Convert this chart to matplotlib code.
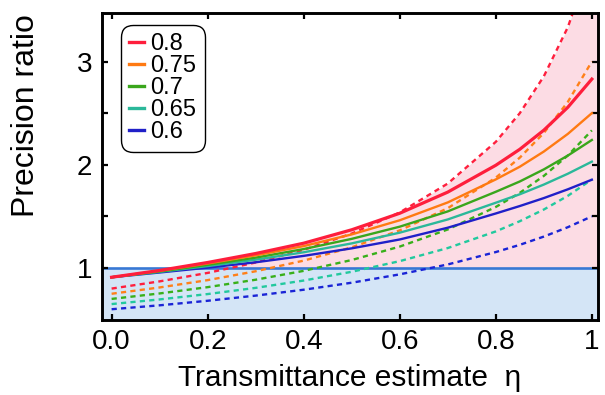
import numpy as np
import matplotlib.pyplot as plt

plt.rcParams['font.family'] = ['Liberation Sans', 'DejaVu Sans']

# transmittance estimate grid
eta = [0.0, 0.1, 0.2, 0.3, 0.4, 0.5, 0.6, 0.7, 0.8, 0.85, 0.9, 0.95, 1.0]

labels = ['0.8', '0.75', '0.7', '0.65', '0.6']
colors = ['#fe1e3c', '#ff7a12', '#3aa61c', '#2bb89a', '#2020c8']
dash_colors = ['#ff1f3d', '#ff8019', '#38b01a', '#22c99e', '#1a24d6']

# solid curves
solid_08 = [0.910, 0.976, 1.053, 1.140, 1.240, 1.370, 1.530, 1.735, 1.995, 2.150, 2.335, 2.557, 2.830]
solid_075 = [0.910, 0.972, 1.043, 1.122, 1.212, 1.325, 1.462, 1.635, 1.858, 1.981, 2.128, 2.299, 2.500]
solid_07 = [0.910, 0.966, 1.030, 1.100, 1.183, 1.282, 1.400, 1.548, 1.738, 1.838, 1.955, 2.089, 2.240]
solid_065 = [0.910, 0.962, 1.018, 1.080, 1.152, 1.238, 1.342, 1.470, 1.632, 1.714, 1.808, 1.913, 2.030]
solid_06 = [0.910, 0.956, 1.003, 1.055, 1.117, 1.190, 1.276, 1.390, 1.528, 1.600, 1.677, 1.762, 1.855]

# dashed curves
dash_08 = [0.800, 0.870, 0.952, 1.053, 1.176, 1.333, 1.538, 1.818, 2.222, 2.500, 2.857, 3.333, 4.000]
dash_075 = [0.750, 0.811, 0.882, 0.968, 1.071, 1.200, 1.364, 1.579, 1.875, 2.069, 2.308, 2.609, 3.000]
dash_07 = [0.700, 0.753, 0.814, 0.886, 0.972, 1.077, 1.207, 1.373, 1.591, 1.728, 1.892, 2.090, 2.333]
dash_065 = [0.650, 0.695, 0.747, 0.807, 0.878, 0.963, 1.066, 1.193, 1.354, 1.453, 1.566, 1.699, 1.857]
dash_06 = [0.600, 0.638, 0.682, 0.732, 0.789, 0.857, 0.938, 1.034, 1.154, 1.224, 1.304, 1.395, 1.500]

solids = [solid_08, solid_075, solid_07, solid_065, solid_06]
dashes = [dash_08, dash_075, dash_07, dash_065, dash_06]

fig = plt.figure(figsize=(6.05, 3.95), dpi=100)
ax = fig.add_axes([0.1686, 0.191, 0.82, 0.776])
xmin, xmax = -0.02, 1.013
ymin, ymax = 0.5, 3.47

# shaded regions
envelope = np.max(np.array(solids + dashes), axis=0)
ax.axhspan(0.0, 1.0, color='#d4e5f6', lw=0, zorder=0)
ax.fill_between(eta, 1.0, envelope, where=envelope >= 1.0, interpolate=True,
                color='#fcdce4', lw=0, zorder=0)
ax.fill_between([1.0, 1.1], 1.0, 5.0, color='#fcdce4', lw=0, zorder=0)
ax.axhline(1.0, color='#3878d4', lw=1.9, zorder=1)

handles = []
for i in reversed(range(5)):
    ax.plot(eta, dashes[i], color=dash_colors[i], lw=1.7, dashes=(2.2, 1.8), zorder=2)
for i in reversed(range(5)):
    lw = 2.3 if i == 0 else 1.7
    ax.plot(eta, solids[i], color=colors[i], lw=lw, zorder=3)
for i in range(5):
    handles.append(plt.Line2D([], [], color=colors[i], lw=2.4))

ax.set_xlim(xmin, xmax)
ax.set_ylim(ymin, ymax)
ax.set_xticks([0.0, 0.2, 0.4, 0.6, 0.8, 1.0])
ax.set_xticklabels(['0.0', '0.2', '0.4', '0.6', '0.8', '1'])
ax.set_yticks([1, 1.5, 2, 2.5, 3])
ax.set_yticklabels(['1', '', '2', '', '3'])
ax.tick_params(direction='in', length=4, width=1.6, top=True, right=True,
               labelsize=20, pad=7)
for sp in ax.spines.values():
    sp.set_linewidth(2.1)
    sp.set_zorder(5)

ax.set_xlabel('Transmittance estimate  η', fontsize=21.5, labelpad=6)
ax.set_ylabel('Precision ratio', fontsize=23)
ax.yaxis.set_label_coords(-0.123, 0.667)

leg = ax.legend(handles, labels, loc='upper left', fontsize=17,
                bbox_to_anchor=(0.048, 0.945), borderaxespad=0,
                handlelength=0.6, handletextpad=0.3,
                labelspacing=0.0, borderpad=0.15, fancybox=True, framealpha=1,
                edgecolor='black')
leg.get_frame().set_linewidth(1.0)
leg.get_frame().set_boxstyle('round', pad=0.2, rounding_size=0.5)

plt.savefig('out.png', dpi=100)
